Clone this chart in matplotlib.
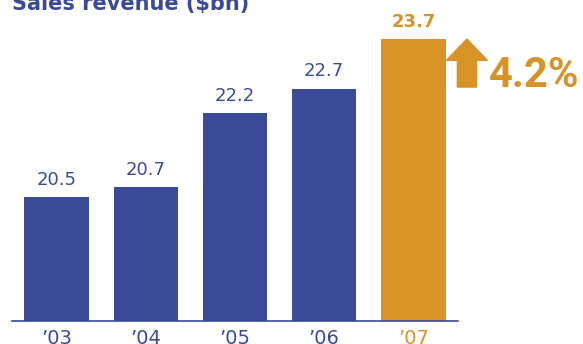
import matplotlib
matplotlib.use('Agg')
import matplotlib.pyplot as plt
from matplotlib.patches import Polygon

# Data
years = ["\u201903", "\u201904", "\u201905", "\u201906", "\u201907"]
revenue = [20.5, 20.7, 22.2, 22.7, 23.7]
growth_label = "4.2%"

BLUE = '#3b4a96'
ORANGE = '#d89327'
colors = [BLUE] * (len(years) - 1) + [ORANGE]

fig = plt.figure(figsize=(5.83, 3.44), dpi=100)
ax = fig.add_axes([12 / 583, 23 / 344, 446 / 583, 321 / 344])

x = list(range(len(years)))
ax.bar(x, revenue, width=0.72, color=colors, bottom=0)
ax.set_xlim(-0.5, 4.5)
ax.set_ylim(18, 24.49)

# value labels
for i, v in enumerate(revenue):
    last = i == len(revenue) - 1
    ax.annotate(f"{v:.1f}", (i, v), xytext=(0, 8.8), textcoords='offset points',
                ha='center', va='baseline', fontsize=13,
                fontweight='bold' if last else 'medium',
                color=ORANGE if last else BLUE)

# axes styling
for side in ['top', 'right', 'left']:
    ax.spines[side].set_visible(False)
ax.spines['bottom'].set_color(BLUE)
ax.spines['bottom'].set_linewidth(1.2)
ax.set_yticks([])
ax.set_xticks(x)
ax.set_xticklabels(years, fontsize=14)
for lbl, c in zip(ax.get_xticklabels(), colors):
    lbl.set_color(c)
ax.tick_params(axis='x', length=0, pad=6)

# growth arrow next to last bar
top = revenue[-1]
cx = 4.60
arrow = [(cx, top), (cx + 0.23, top - 0.43), (cx + 0.107, top - 0.43),
         (cx + 0.107, top - 0.97), (cx - 0.107, top - 0.97),
         (cx - 0.107, top - 0.43), (cx - 0.23, top - 0.43)]
ax.add_patch(Polygon(arrow, closed=True, color=ORANGE, clip_on=False))
ax.text(4.85, top - 0.73, growth_label, fontsize=30, fontweight='bold',
        family=['Roboto', 'DejaVu Sans'], color=ORANGE, va='center', ha='left',
        clip_on=False)

# title (partly cut off at top like the source)
fig.text(12 / 583, (344 - 10) / 344, "Sales revenue ($bn)", fontsize=15,
         fontweight='bold', color=BLUE, va='baseline', ha='left')

fig.savefig('out.png', dpi=100)
